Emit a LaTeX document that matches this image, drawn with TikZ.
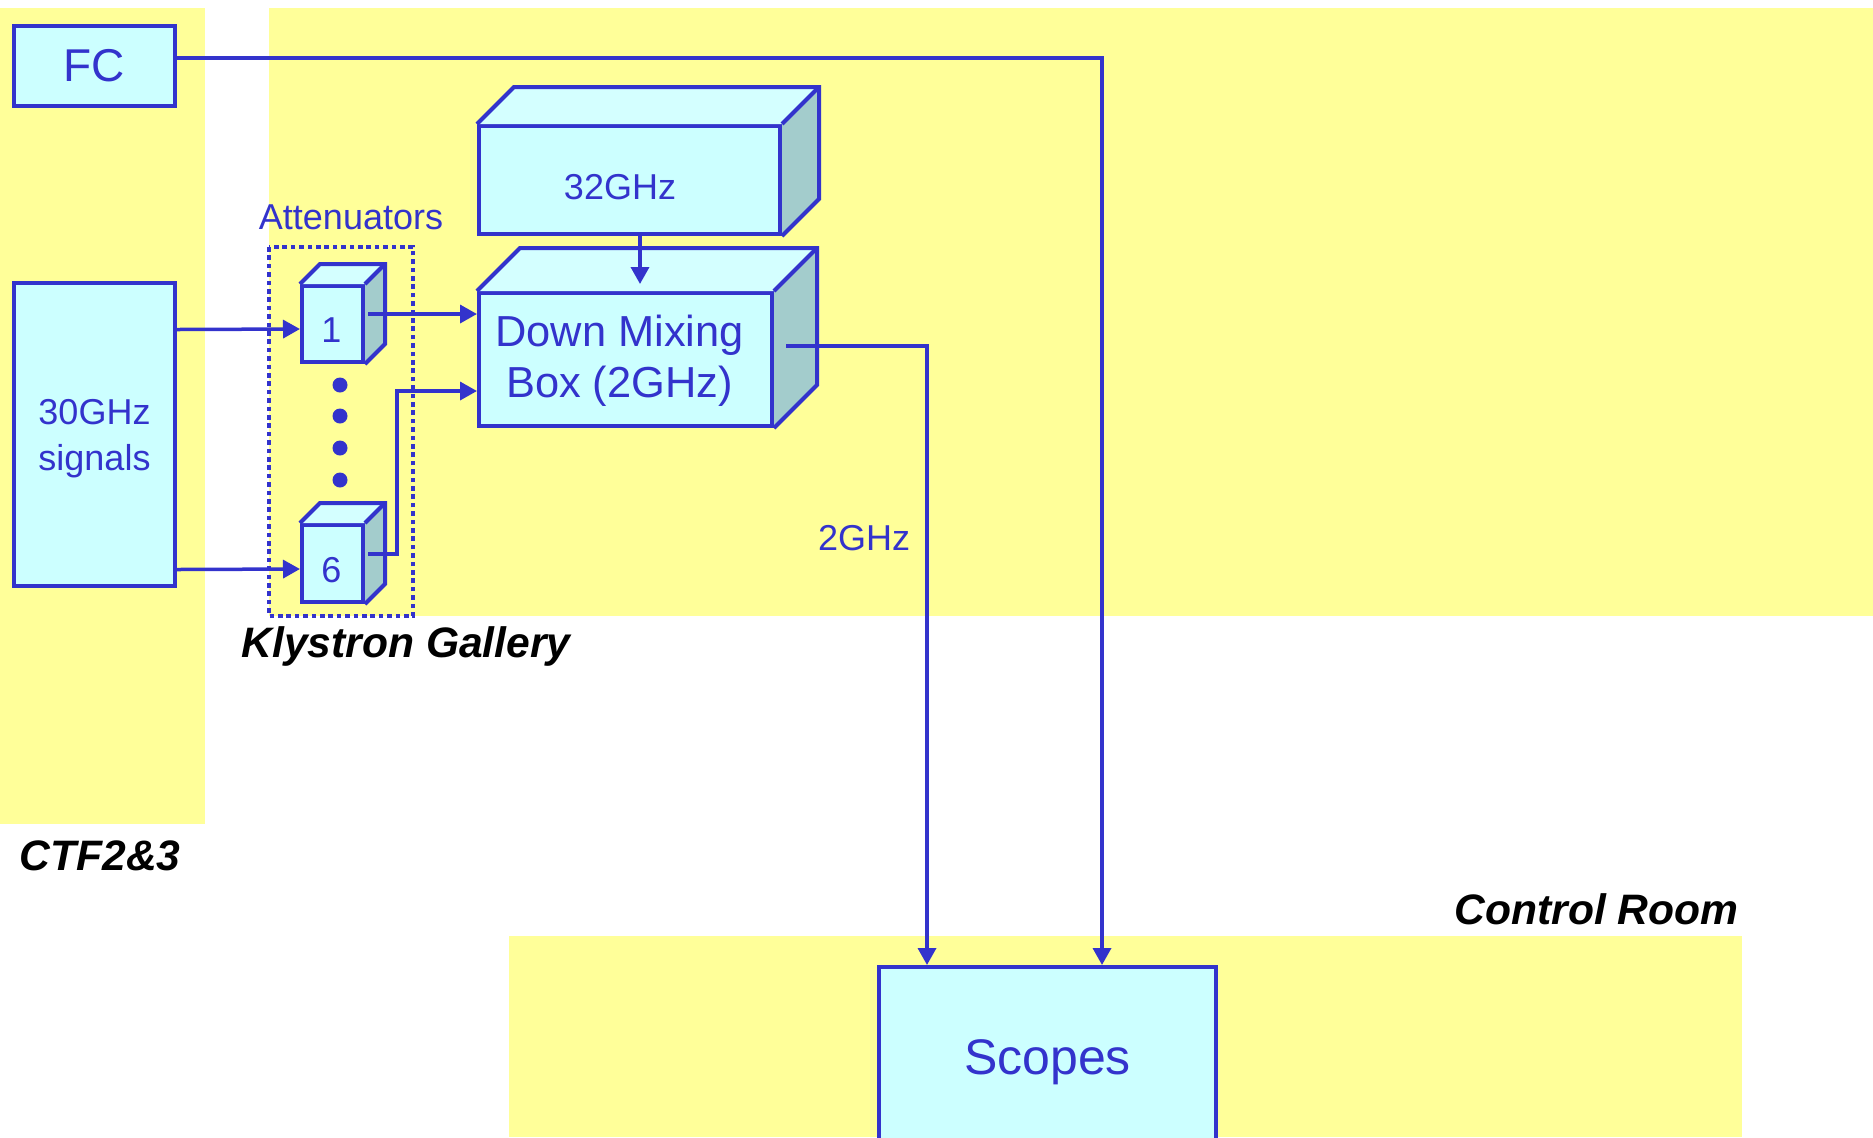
\documentclass[tikz,border=0pt]{standalone}
\usepackage{fontspec}
\setmainfont{Liberation Sans}
\usetikzlibrary{arrows.meta,calc}
\definecolor{ylw}{HTML}{FFFF99}
\definecolor{bl}{HTML}{3333CC}
\definecolor{cyanf}{HTML}{CCFFFF}
\definecolor{cyantop}{HTML}{D4FFFF}
\definecolor{cyanside}{HTML}{A3CCCC}
\tikzset{
  zone/.style={fill=ylw,draw=none},
  box/.style={draw=bl,fill=cyanf,line width=2pt,inner sep=0pt,anchor=north west,text=bl,align=center},
  face/.style={draw=bl,line width=2pt,line join=miter},
  arr/.style={draw=bl,line width=1.75pt,-{Triangle[length=8.5pt,width=9pt]}},
  txt/.style={text=bl,inner sep=0pt},
  zlabel/.style={font=\fontsize{21.3pt}{25pt}\selectfont\bfseries\itshape,text=black,inner sep=0pt},
}
\newcommand{\boxthreed}[2]{% node name, depth
  \fill[cyantop] (#1.north west) -- ++(#2,-#2) -- ($(#1.north east)+(#2,-#2)$) -- (#1.north east) -- cycle;
  \fill[cyanside] (#1.north east) -- ++(#2,-#2) -- ($(#1.south east)+(#2,-#2)$) -- (#1.south east) -- cycle;
  \draw[face] (#1.north west) -- ++(#2,-#2) -- ($(#1.north east)+(#2,-#2)$) -- ($(#1.south east)+(#2,-#2)$) -- (#1.south east);
  \draw[face] (#1.north east) -- ++(#2,-#2);
}
\begin{document}
\begin{tikzpicture}[x=0.5pt,y=-0.5pt]
\useasboundingbox (0,0) rectangle (1873,1137);
\clip (0,0) rectangle (1873,1137);
% zones
\fill[zone] (0,8) rectangle (205,824);
\fill[zone] (269,8) rectangle (1873,616);
\fill[zone] (509,936) rectangle (1742,1137);
% zone labels
\node[zlabel] (lctf) at (100,856) {CTF2\&3};
\node[zlabel] (lkly) at (406,646) {Klystron Gallery};
\node[zlabel,anchor=east] (lctl) at (1739,909) {Control Room};
% boxes
\node[box,minimum width=80.5pt,minimum height=40pt,font=\fontsize{23pt}{27pt}\selectfont] (fc) at (12,24) {FC};
\node[box,minimum width=80.5pt,minimum height=151.5pt] (sig) at (12,281) {};
\node[txt,align=center,font=\fontsize{18pt}{22.7pt}\selectfont] (tsig) at ($(sig.center)+(0,4)$) {30GHz\\signals};
\node[box,minimum width=150.5pt,minimum height=54pt] (g32) at (477,124) {};
\boxthreed{g32}{37}
\node[txt,font=\fontsize{18pt}{22pt}\selectfont] (t32) at ($(g32.center)+(-9.5,7)$) {32GHz};
\node[box,minimum width=146.5pt,minimum height=66.5pt] (dm) at (477,291) {};
\boxthreed{dm}{43}
\node[txt,align=center,font=\fontsize{21.7pt}{25.7pt}\selectfont] (tdm) at ($(dm.center)+(-6,1)$) {Down Mixing\\Box (2GHz)};
\node[box,minimum width=30.5pt,minimum height=38pt] (att1) at (300,284) {};
\boxthreed{att1}{20}
\node[txt,font=\fontsize{18pt}{22pt}\selectfont] (t1) at ($(att1.center)+(-1,6)$) {1};
\node[box,minimum width=30.5pt,minimum height=38.5pt] (att6) at (300,523) {};
\boxthreed{att6}{20}
\node[txt,font=\fontsize{18pt}{22pt}\selectfont] (t6) at ($(att6.center)+(-1,7)$) {6};
\node[box,minimum width=168.5pt,minimum height=95pt,font=\fontsize{25pt}{30pt}\selectfont] (sc) at (877,965) {Scopes};
% attenuator group
\draw[bl,line width=1.9pt,dash pattern=on 2.3pt off 1.9pt] (269,247) rectangle (413,616);
\node[txt,font=\fontsize{18pt}{22pt}\selectfont] (latt) at (351,217) {Attenuators};
\foreach \yy in {385,416,448,480} \fill[bl] (340,\yy) circle (7.5);
% labels
\node[txt,font=\fontsize{18pt}{22pt}\selectfont] (l2g) at (864,538) {2GHz};
% connectors
\coordinate (fcout) at ($(fc.east)+(0,-8)$);
\draw[arr] (fcout) -| ($(sc.north)+(54.5,0)$);
\coordinate (dmout) at ($(dm.east)+(12,-13.5)$);
\draw[arr] (dmout) -| ($(sc.north)+(-120.5,0)$);
\draw[arr] ($(sig.east)+(0,-105)$) -- ($(att1.west)+(0,5)$);
\draw[arr] ($(sig.east)+(0,135)$) -- ($(att6.west)+(0,5.5)$);
\coordinate (a1out) at ($(att1.east)+(3,-10)$);
\draw[arr] (a1out) -- (a1out -| dm.west);
\coordinate (a6out) at ($(att6.east)+(3,-9.5)$);
\coordinate (a6mid) at (397,391);
\draw[arr] (a6out) -| (a6mid) -- (a6mid -| dm.west);
\coordinate (gout) at ($(g32.south)+(10.5,0)$);
\draw[arr] (gout) -- ++(0,48);
\end{tikzpicture}
\end{document}
